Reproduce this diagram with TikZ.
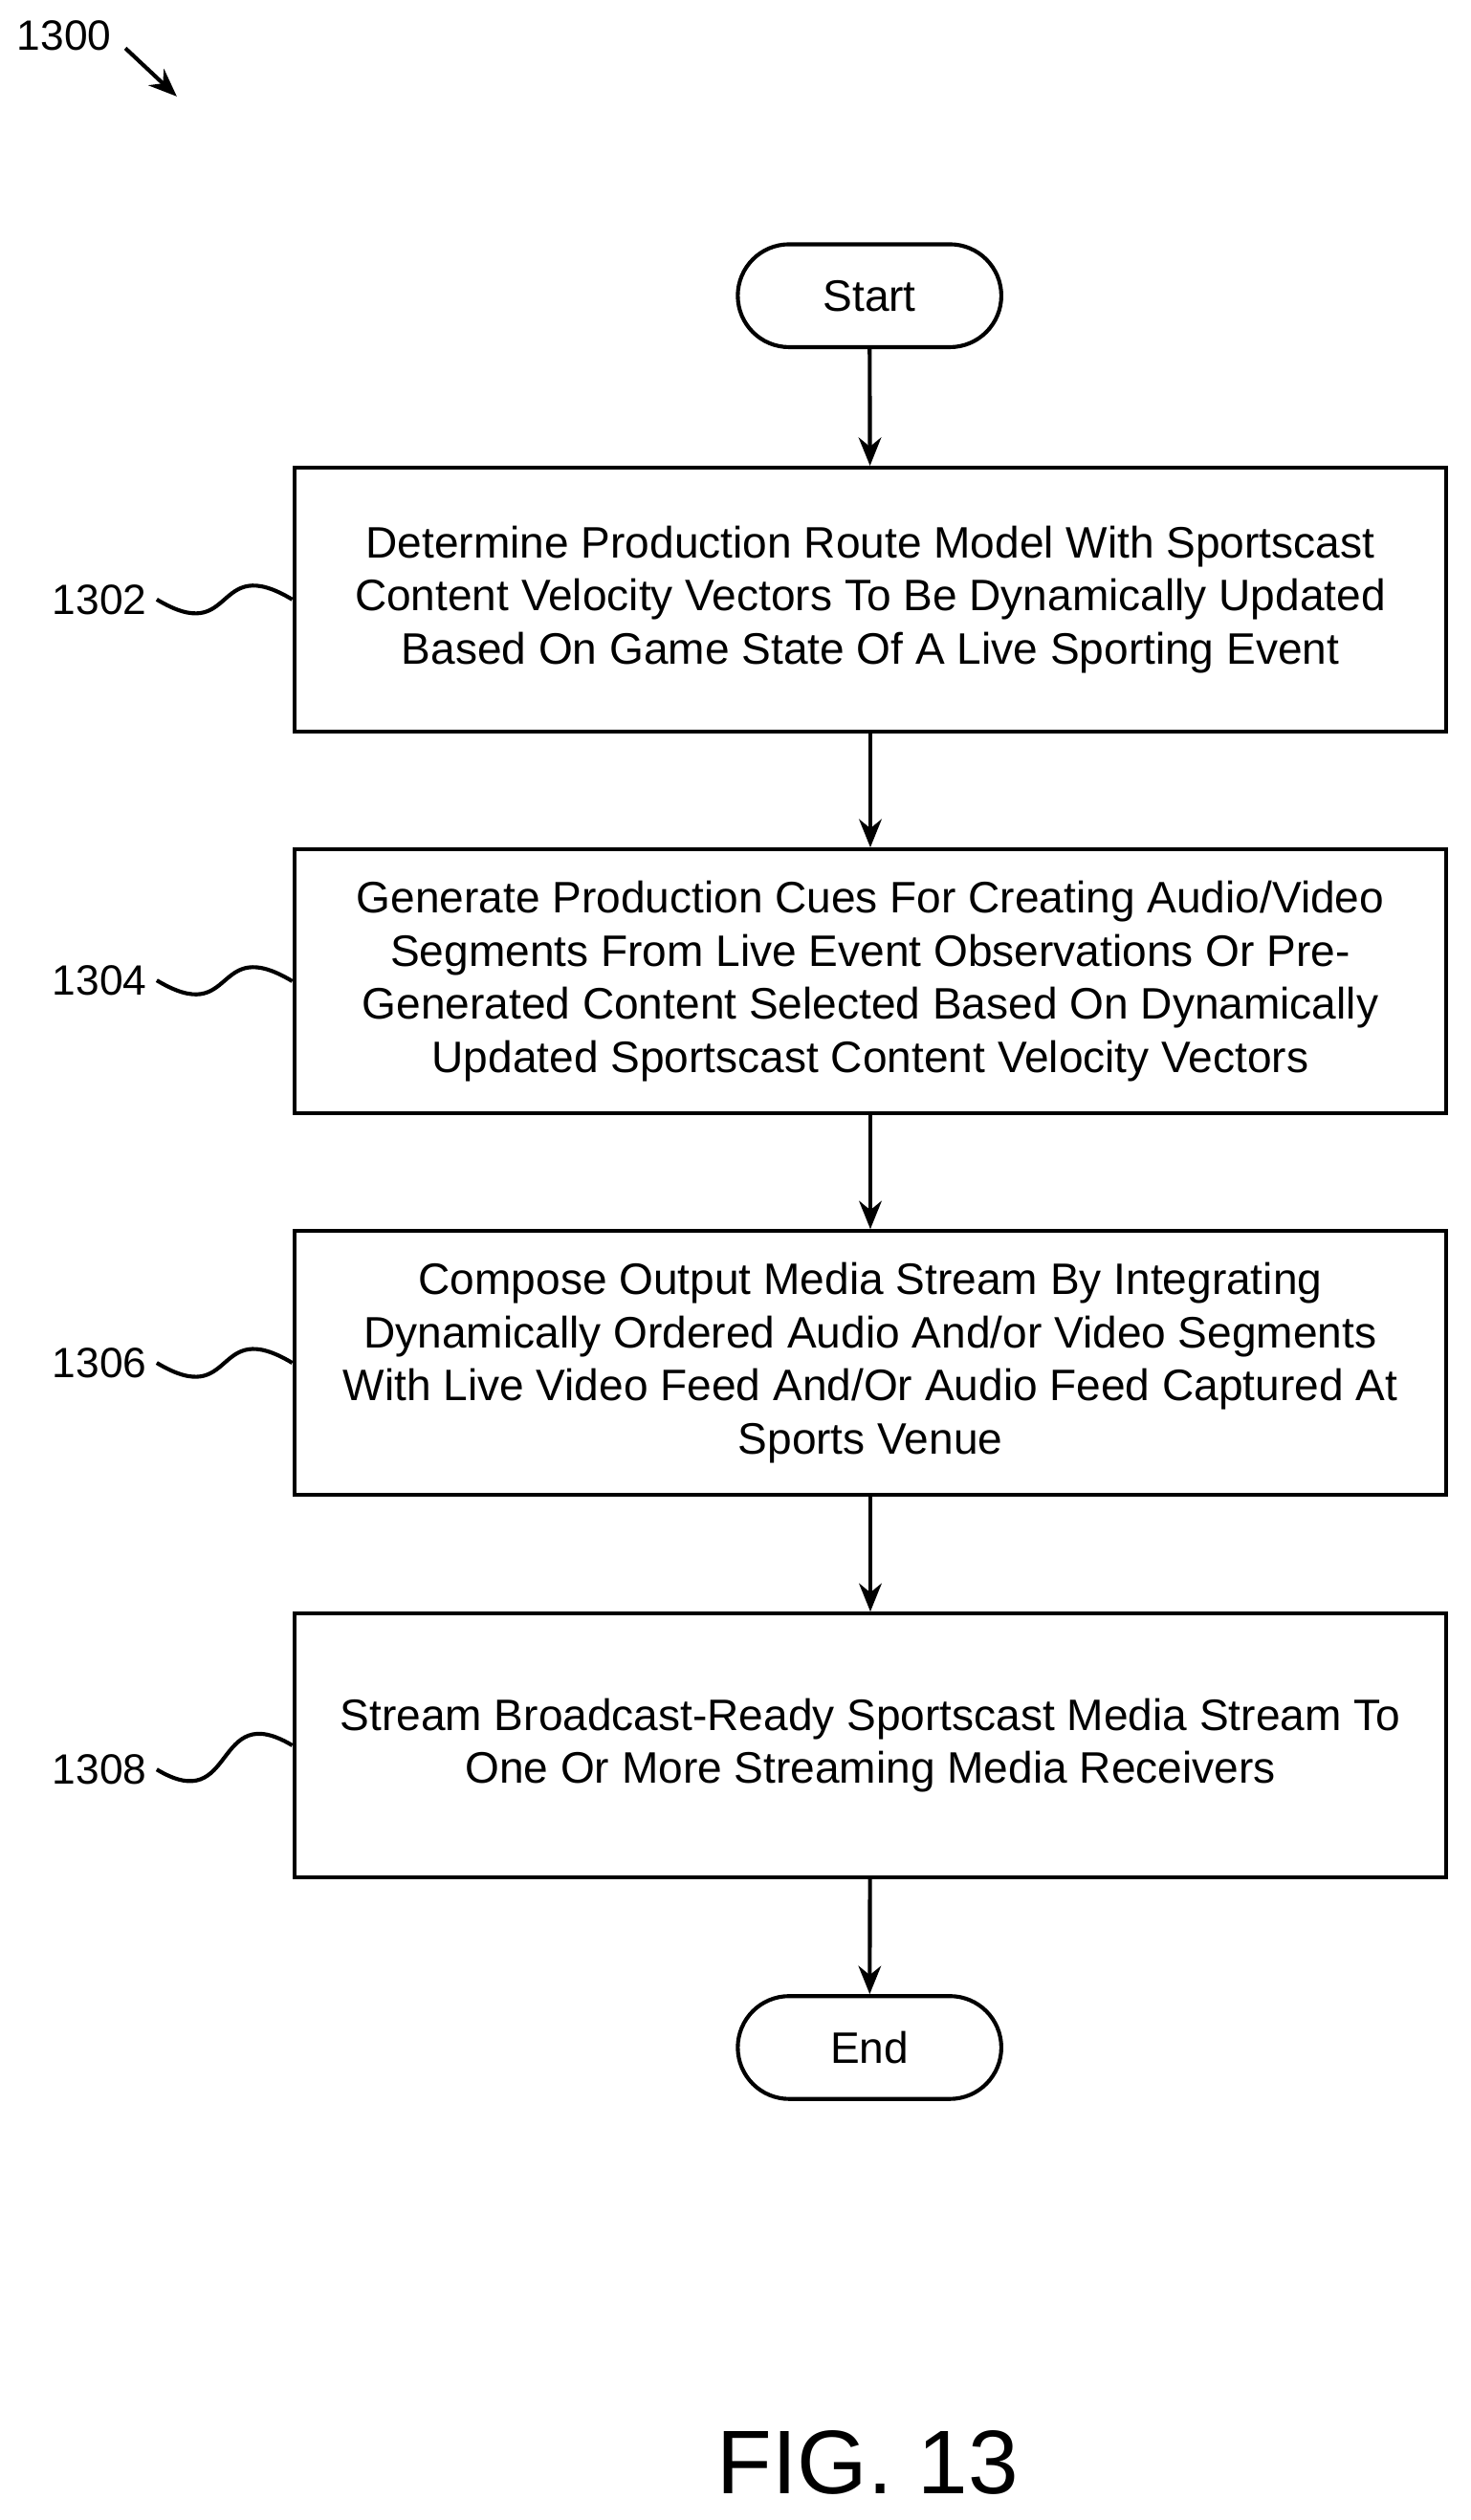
\documentclass[tikz,border=0pt]{standalone}
\usepackage{fontspec}
\setmainfont{Liberation Sans}
\usetikzlibrary{arrows.meta}

\tikzset{
  procbox/.style={draw,line width=1.4pt,minimum width=14.34cm,minimum height=3.28cm,align=center,font=\fontsize{15.6}{18.8}\selectfont},
  term/.style={draw,line width=1.4pt,rounded corners=0.64cm,minimum width=3.28cm,minimum height=1.28cm,font=\fontsize{15.6}{18.8}\selectfont},
  ref/.style={font=\fontsize{15}{18}\selectfont},
  flow/.style={line width=1.4pt,-{Stealth[length=10pt,width=8pt]}},
  wave/.style={line width=1.4pt}
}

\begin{document}
\begin{tikzpicture}[x=0.02cm,y=-0.02cm]
  \useasboundingbox (0,0) rectangle (915,1568);
  %
  \node[ref] (fig) at (40,22) {1300};
  \coordinate (figtip) at (110,60);
  \draw[flow] (78,30) -- (figtip);
  %
  \node[term] (start) at (541,184) {Start};
  \node[procbox] (b1) at (541.5,373) {Determine Production Route Model With Sportscast\\Content Velocity Vectors To Be Dynamically Updated\\Based On Game State Of A Live Sporting Event};
  \node[procbox] (b2) at (541.5,610.5) {Generate Production Cues For Creating Audio/Video\\Segments From Live Event Observations Or Pre-\\Generated Content Selected Based On Dynamically\\Updated Sportscast Content Velocity Vectors};
  \node[procbox] (b3) at (541.5,848) {Compose Output Media Stream By Integrating\\Dynamically Ordered Audio And/or Video Segments\\With Live Video Feed And/Or Audio Feed Captured At\\Sports Venue};
  \node[procbox] (b4) at (541.5,1086) {Stream Broadcast-Ready Sportscast Media Stream To\\One Or More Streaming Media Receivers};
  \node[term] (end) at (541,1274) {End};
  %
  \node[ref] (l1) at (62,373) {1302};
  \node[ref] (l2) at (62,610) {1304};
  \node[ref] (l3) at (62,848) {1306};
  \node[ref] (l4) at (62,1101) {1308};
  \foreach \i in {1,2,3,4}
    \draw[wave] (l\i.east) .. controls +(50,30) and +(-50,-30) .. (b\i.west);
  %
  \draw[flow] (start) -- (b1);
  \draw[flow] (b1) -- (b2);
  \draw[flow] (b2) -- (b3);
  \draw[flow] (b3) -- (b4);
  \draw[flow] (b4) -- (end);
  %
  \node[font=\fontsize{32}{38}\selectfont] (cap) at (540,1532) {FIG. 13};
\end{tikzpicture}
\end{document}
